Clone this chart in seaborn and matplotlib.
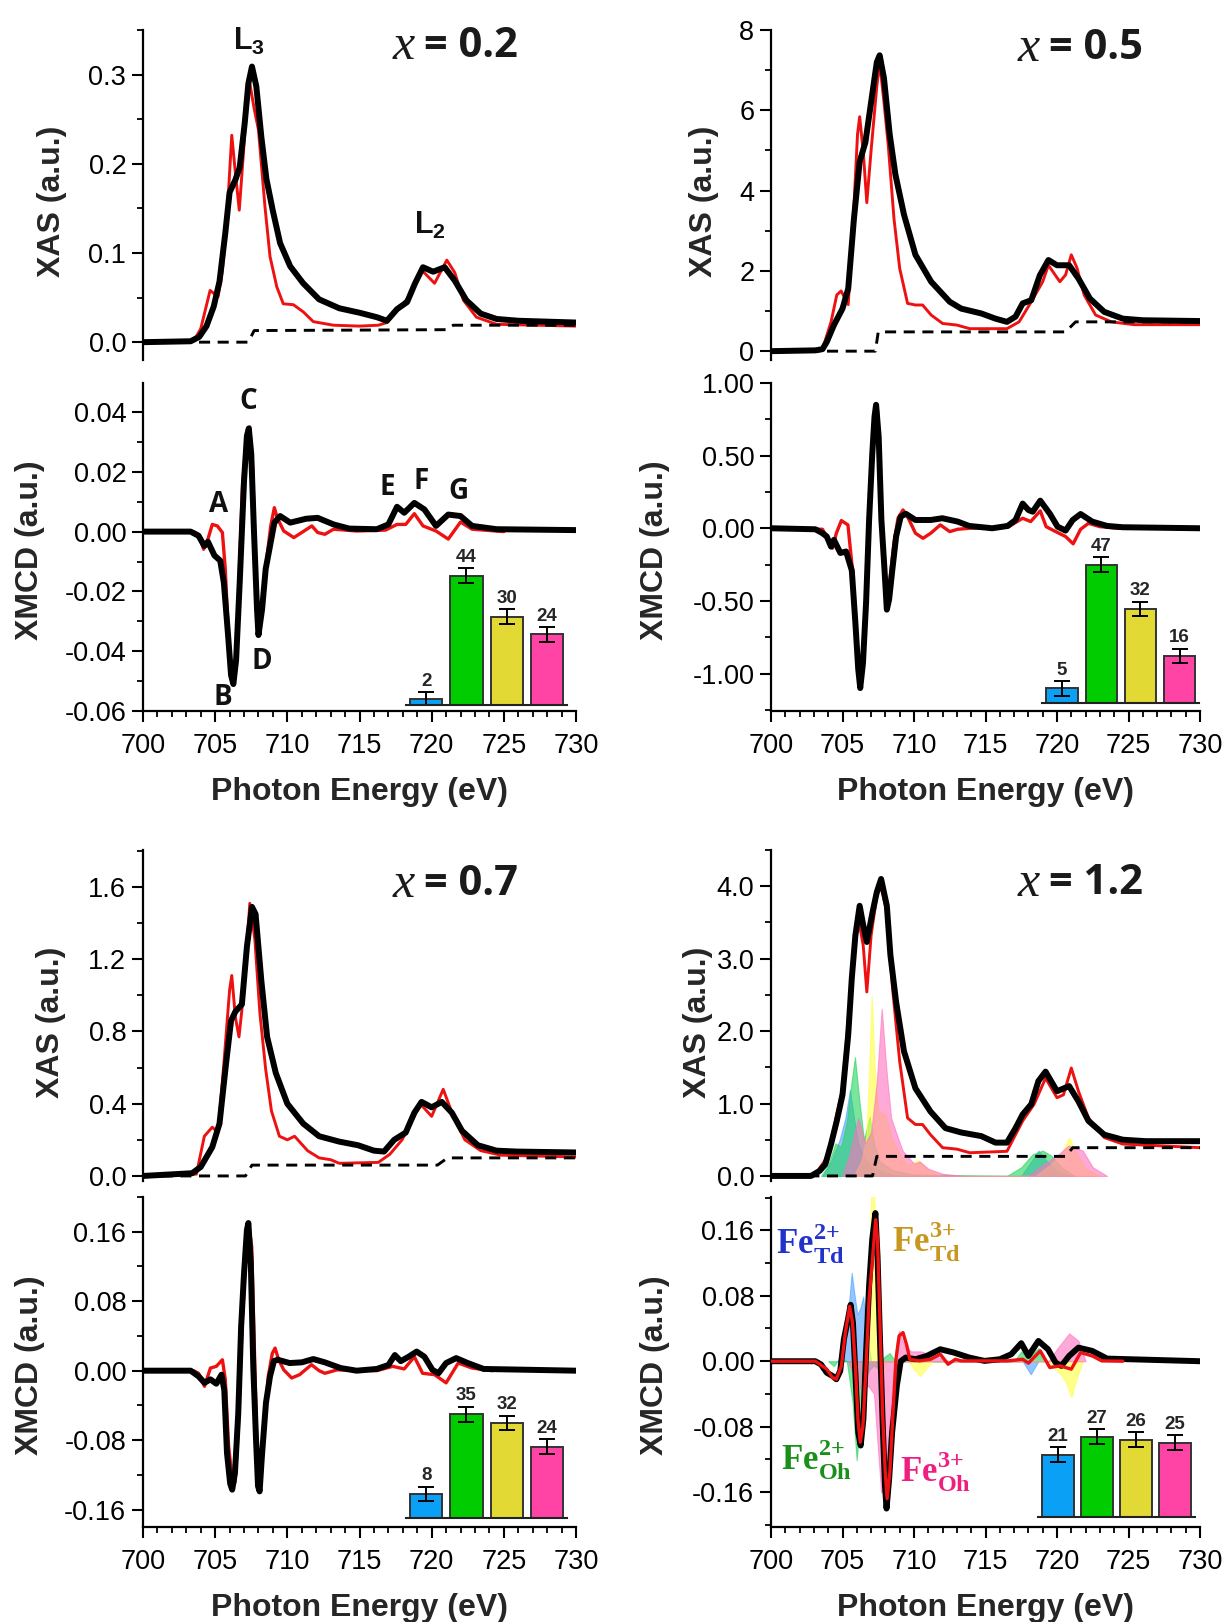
import matplotlib
matplotlib.use('Agg')
import matplotlib.pyplot as plt
import seaborn as sns
from matplotlib.ticker import MultipleLocator, FormatStrFormatter

sns.set_theme(style='ticks')
plt.rcParams['font.family'] = ['Liberation Sans', 'DejaVu Sans']
plt.rcParams['axes.unicode_minus'] = False
plt.rcParams['mathtext.fontset'] = 'custom'
plt.rcParams['mathtext.rm'] = 'Liberation Serif'
plt.rcParams['mathtext.bf'] = 'Liberation Serif:bold'
plt.rcParams['mathtext.sf'] = 'Liberation Sans:bold'

# ---------------- data: x = 0.2 ----------------
E_XAS_EXP_02 = [700, 703.3, 703.9, 704.4, 704.9, 705.3, 705.7, 706.0, 706.4, 706.7, 707.05, 707.3, 707.55, 707.85, 708.2, 708.55, 709.0, 709.5, 710.2, 711.1, 712.2, 713.6, 715.0, 716.2, 716.9, 717.6, 718.3, 718.85, 719.4, 720.1, 720.9, 721.6, 722.4, 723.4, 724.5, 726.0, 730]
XAS_EXP_02 = [0, 0.001, 0.006, 0.018, 0.04, 0.068, 0.122, 0.168, 0.182, 0.196, 0.246, 0.29, 0.309, 0.287, 0.23, 0.183, 0.147, 0.111, 0.085, 0.066, 0.048, 0.038, 0.033, 0.028, 0.024, 0.037, 0.045, 0.066, 0.084, 0.079, 0.084, 0.069, 0.047, 0.032, 0.026, 0.024, 0.022]
E_XAS_FIT_02 = [700, 703.5, 704.0, 704.3, 704.65, 705.2, 705.5, 705.8, 706.15, 706.4, 706.67, 706.95, 707.15, 707.41, 707.7, 708.0, 708.45, 708.8, 709.27, 709.72, 710.42, 711.1, 711.8, 713.2, 715.0, 716.3, 716.9, 717.6, 718.4, 719.3, 720.2, 721.05, 721.6, 722.2, 723.1, 724.5, 730]
XAS_FIT_02 = [0, 0.001, 0.015, 0.035, 0.058, 0.051, 0.08, 0.134, 0.232, 0.19, 0.148, 0.21, 0.26, 0.289, 0.262, 0.238, 0.152, 0.096, 0.062, 0.043, 0.042, 0.034, 0.023, 0.019, 0.018, 0.019, 0.022, 0.036, 0.05, 0.081, 0.066, 0.092, 0.078, 0.047, 0.028, 0.02, 0.018]
E_STEP_02 = [700, 707.3, 707.7, 721.0, 721.5, 730]
STEP_02 = [0, 0, 0.013, 0.014, 0.019, 0.019]
E_XMCD_EXP_02 = [700, 703.3, 703.85, 704.25, 704.5, 704.95, 705.35, 705.6, 705.9, 706.1, 706.26, 706.45, 706.7, 707.0, 707.2, 707.33, 707.5, 707.7, 707.9, 708.0, 708.25, 708.5, 708.8, 709.1, 709.5, 710.2, 711.3, 712.1, 713.2, 714.3, 716.2, 717.0, 717.6, 718.1, 718.8, 719.5, 720.3, 721.15, 722.0, 722.8, 724.5, 730]
XMCD_EXP_02 = [0, 0, -0.0014, -0.0048, -0.0034, -0.008, -0.0097, -0.017, -0.035, -0.048, -0.051, -0.043, -0.017, 0.017, 0.032, 0.0345, 0.026, -0.0014, -0.026, -0.0346, -0.026, -0.0125, -0.0048, 0.003, 0.0052, 0.003, 0.0043, 0.0046, 0.0024, 0.001, 0.0008, 0.0024, 0.0083, 0.0063, 0.0096, 0.0074, 0.0019, 0.0057, 0.0052, 0.0019, 0.0008, 0.0005]
E_XMCD_FIT_02 = [700, 703.5, 703.85, 704.2, 704.5, 704.8, 705.15, 705.5, 705.7, 705.95, 706.2, 706.4, 706.6, 706.9, 707.2, 707.4, 707.6, 707.8, 708.0, 708.25, 708.6, 708.85, 709.1, 709.3, 709.75, 710.45, 711.0, 711.7, 712.1, 712.6, 713.2, 714.8, 716.8, 717.6, 718.2, 718.8, 719.4, 720.3, 721.15, 722.0, 722.8, 725.0]
XMCD_FIT_02 = [0, 0, -0.0009, -0.0059, -0.0025, 0.0024, 0.0019, -0.0003, -0.0125, -0.038, -0.048, -0.0456, -0.0235, 0.016, 0.032, 0.035, 0.0207, -0.0125, -0.031, -0.027, -0.008, 0.0019, 0.008, 0.0046, 0.0002, -0.002, -0.0003, 0.0019, -0.0003, -0.0009, 0.0008, 0.0002, 0.0005, 0.0024, 0.0024, 0.006, 0.0019, 0.0002, -0.0025, 0.0032, 0.0008, 0]
BARS_02 = [2, 44, 30, 24]

# ---------------- data: x = 0.5 ----------------
E_XAS_EXP_05 = [700, 703.1, 703.6, 703.9, 704.4, 705.0, 705.4, 705.8, 706.2, 706.6, 707.0, 707.4, 707.6, 707.9, 708.3, 708.7, 709.3, 710.1, 711.2, 712.5, 713.3, 714.7, 715.7, 716.5, 717.1, 717.6, 718.2, 718.8, 719.4, 720.0, 720.85, 721.5, 722.3, 723.3, 724.6, 726.0, 730]
XAS_EXP_05 = [0, 0.02, 0.05, 0.23, 0.65, 1.06, 1.56, 3.3, 4.72, 5.2, 6.2, 7.2, 7.37, 6.8, 5.4, 4.4, 3.4, 2.4, 1.73, 1.23, 1.06, 0.94, 0.81, 0.73, 0.86, 1.19, 1.27, 1.89, 2.27, 2.14, 2.14, 1.81, 1.31, 0.98, 0.81, 0.77, 0.75]
E_XAS_FIT_05 = [700, 703.6, 704.2, 704.6, 704.9, 705.4, 705.7, 706.05, 706.2, 706.45, 706.7, 707.0, 707.4, 707.6, 707.9, 708.2, 708.6, 709.0, 709.55, 710.1, 710.6, 711.2, 712.0, 713.0, 713.9, 716.5, 717.35, 718.2, 719.0, 719.4, 720.2, 720.6, 721.0, 721.4, 721.9, 722.7, 723.8, 725.4, 730]
XAS_FIT_05 = [0, 0.05, 0.73, 1.4, 1.5, 1.16, 2.9, 5.4, 5.84, 4.97, 3.7, 5.0, 6.6, 7.2, 6.2, 5.13, 3.3, 2.06, 1.19, 1.15, 1.15, 0.9, 0.69, 0.65, 0.56, 0.56, 0.73, 1.23, 1.73, 2.14, 1.73, 1.9, 2.4, 2.07, 1.4, 0.9, 0.73, 0.66, 0.66]
E_STEP_05 = [700, 707.3, 707.5, 720.6, 721.3, 730]
STEP_05 = [0, 0, 0.48, 0.48, 0.73, 0.73]
E_XMCD_EXP_05 = [700, 703.1, 703.6, 703.9, 704.2, 704.4, 704.85, 705.25, 705.65, 705.9, 706.1, 706.24, 706.43, 706.65, 706.86, 707.08, 707.24, 707.35, 707.53, 707.72, 707.94, 708.1, 708.26, 708.48, 708.75, 709.07, 709.42, 710.1, 711.17, 711.98, 713.05, 713.86, 715.47, 716.55, 717.1, 717.6, 718.0, 718.3, 718.83, 719.5, 720.04, 720.6, 721.1, 721.65, 722.46, 723.5, 724.6, 730]
XMCD_EXP_05 = [0, -0.007, -0.034, -0.057, -0.126, -0.08, -0.17, -0.16, -0.29, -0.65, -0.97, -1.10, -0.93, -0.51, 0.057, 0.51, 0.77, 0.85, 0.63, 0.057, -0.29, -0.56, -0.49, -0.29, -0.057, 0.08, 0.10, 0.057, 0.057, 0.069, 0.046, 0.016, 0, 0.016, 0.057, 0.17, 0.126, 0.114, 0.19, 0.10, 0.011, -0.016, 0.057, 0.098, 0.046, 0.016, 0.007, 0]
E_XMCD_FIT_05 = [700, 703.6, 704.0, 704.3, 704.57, 704.92, 705.38, 705.7, 705.97, 706.2, 706.38, 706.6, 706.86, 707.13, 707.32, 707.45, 707.6, 707.8, 707.97, 708.15, 708.34, 708.6, 708.88, 709.23, 709.55, 710.1, 710.63, 711.17, 711.84, 712.5, 713.05, 713.86, 716.55, 717.6, 718.16, 718.83, 719.24, 719.91, 720.6, 721.13, 721.65, 722.2, 723.0, 724.35]
XMCD_FIT_05 = [0, -0.007, -0.08, -0.137, -0.034, 0.053, 0.023, -0.29, -0.79, -1.06, -0.97, -0.56, 0.126, 0.63, 0.79, 0.81, 0.49, -0.057, -0.40, -0.49, -0.33, -0.10, 0.069, 0.126, 0.08, -0.034, -0.069, -0.034, 0.023, -0.023, -0.007, 0, 0.007, 0.069, 0.046, 0.12, 0.011, -0.023, -0.057, -0.107, -0.007, 0.034, 0.011, 0]
BARS_05 = [5, 47, 32, 16]

# ---------------- data: x = 0.7 ----------------
E_XAS_EXP_07 = [700, 703.4, 704.0, 704.8, 705.3, 705.75, 706.1, 706.4, 706.85, 707.2, 707.55, 707.8, 708.2, 708.6, 709.2, 710.0, 711.1, 712.2, 713.6, 714.9, 716.0, 716.7, 717.4, 718.2, 718.8, 719.3, 720.0, 720.7, 721.4, 722.1, 723.2, 724.5, 725.9, 730]
XAS_EXP_07 = [0, 0.015, 0.05, 0.16, 0.29, 0.62, 0.86, 0.91, 0.95, 1.27, 1.49, 1.45, 1.08, 0.77, 0.57, 0.40, 0.29, 0.22, 0.19, 0.17, 0.14, 0.135, 0.2, 0.24, 0.35, 0.41, 0.38, 0.41, 0.35, 0.25, 0.17, 0.14, 0.135, 0.13]
E_XAS_FIT_07 = [700, 703.7, 704.25, 704.8, 705.2, 705.6, 706.0, 706.15, 706.4, 706.65, 707.0, 707.4, 707.75, 708.1, 708.5, 708.9, 709.45, 710.0, 710.5, 711.4, 712.2, 713.0, 713.6, 716.3, 717.1, 717.95, 718.8, 719.2, 720.0, 720.8, 721.5, 722.3, 723.4, 724.8, 730]
XAS_FIT_07 = [0, 0.01, 0.22, 0.27, 0.24, 0.62, 1.03, 1.11, 0.88, 0.77, 1.03, 1.51, 1.31, 0.9, 0.59, 0.36, 0.22, 0.2, 0.22, 0.14, 0.1, 0.09, 0.07, 0.075, 0.12, 0.2, 0.33, 0.4, 0.33, 0.48, 0.33, 0.2, 0.14, 0.115, 0.105]
E_STEP_07 = [700, 707.1, 707.55, 720.4, 721.1, 730]
STEP_07 = [0, 0, 0.06, 0.06, 0.1, 0.1]
E_XMCD_EXP_07 = [700, 703.3, 703.85, 704.26, 704.67, 705.08, 705.44, 705.63, 705.82, 706.04, 706.18, 706.37, 706.6, 706.8, 707.0, 707.2, 707.3, 707.47, 707.64, 707.83, 707.97, 708.08, 708.24, 708.52, 708.8, 709.07, 709.34, 710.16, 711.0, 711.8, 712.6, 713.7, 714.8, 716.2, 717.0, 717.45, 717.86, 718.4, 718.96, 719.5, 720.05, 720.47, 721.0, 721.7, 722.5, 723.6, 730]
XMCD_EXP_07 = [0, 0, -0.0065, -0.014, -0.010, -0.015, -0.0046, -0.022, -0.095, -0.13, -0.137, -0.118, -0.049, 0.051, 0.112, 0.162, 0.17, 0.124, 0.005, -0.079, -0.133, -0.139, -0.098, -0.037, -0.0065, 0.011, 0.0126, 0.0088, 0.0096, 0.0134, 0.0096, 0.003, 0, 0.002, 0.0065, 0.018, 0.011, 0.016, 0.022, 0.016, 0.001, -0.003, 0.0088, 0.0145, 0.0088, 0.002, 0]
E_XMCD_FIT_07 = [700, 703.5, 703.85, 704.26, 704.67, 705.08, 705.5, 705.7, 705.93, 706.18, 706.37, 706.6, 706.87, 707.14, 707.36, 707.53, 707.7, 707.86, 708.02, 708.19, 708.41, 708.68, 708.96, 709.15, 709.4, 709.75, 710.3, 710.85, 711.67, 712.2, 712.6, 713.46, 716.2, 717.3, 718.1, 718.8, 719.37, 720.2, 721.0, 721.84, 722.8, 724.2]
XMCD_FIT_07 = [0, 0, -0.003, -0.018, 0.003, 0.005, 0.0126, -0.010, -0.087, -0.125, -0.129, -0.068, 0.055, 0.139, 0.164, 0.143, 0.036, -0.068, -0.125, -0.118, -0.068, -0.0065, 0.020, 0.026, 0.0126, 0.001, -0.0084, -0.0046, 0.0069, 0, -0.003, 0.001, 0, 0.005, 0.002, 0.016, -0.003, -0.0046, -0.014, 0.0088, 0.003, 0]
BARS_07 = [8, 35, 32, 24]

# ---------------- data: x = 1.2 ----------------
E_XAS_EXP_12 = [700, 702.8, 703.4, 703.8, 704.2, 704.6, 705.0, 705.4, 705.65, 705.9, 706.2, 706.45, 706.7, 707.1, 707.4, 707.7, 708.1, 708.35, 708.75, 709.3, 710.1, 711.15, 712.2, 713.3, 714.7, 715.7, 716.5, 717.1, 717.6, 718.2, 718.7, 719.2, 720.0, 720.85, 721.5, 722.2, 723.3, 724.6, 726.2, 730]
XAS_EXP_12 = [0, 0, 0.07, 0.16, 0.44, 0.76, 1.12, 1.95, 2.73, 3.32, 3.73, 3.46, 3.23, 3.64, 3.92, 4.1, 3.73, 3.05, 2.4, 1.72, 1.21, 0.89, 0.66, 0.6, 0.55, 0.46, 0.46, 0.66, 0.85, 0.99, 1.31, 1.44, 1.17, 1.24, 1.03, 0.76, 0.57, 0.5, 0.48, 0.48]
E_XAS_FIT_12 = [700, 703.1, 703.9, 704.4, 705.0, 705.5, 705.9, 706.2, 706.45, 706.7, 707.0, 707.4, 707.7, 708.1, 708.5, 709.0, 709.55, 710.1, 710.6, 711.15, 712.0, 713.0, 713.9, 716.5, 717.6, 718.4, 719.2, 720.0, 720.45, 721.0, 721.5, 722.2, 723.3, 724.6, 730]
XAS_FIT_12 = [0, 0.02, 0.25, 0.66, 1.21, 2.4, 3.32, 3.46, 3.18, 2.54, 3.32, 3.87, 3.99, 3.64, 2.59, 1.58, 0.8, 0.71, 0.71, 0.57, 0.39, 0.37, 0.32, 0.34, 0.76, 0.99, 1.35, 1.08, 1.12, 1.49, 1.17, 0.8, 0.53, 0.44, 0.39]
E_STEP_12 = [700, 707.1, 707.4, 720.6, 721.1, 730]
STEP_12 = [0, 0, 0.27, 0.27, 0.39, 0.39]
E_XMCD_EXP_12 = [700, 703.1, 703.5, 703.9, 704.3, 704.57, 704.84, 705.1, 705.38, 705.57, 705.73, 705.92, 706.1, 706.27, 706.46, 706.65, 706.86, 707.08, 707.3, 707.45, 707.6, 707.8, 707.97, 708.08, 708.26, 708.47, 708.8, 709.07, 709.42, 710.1, 710.9, 711.84, 712.78, 713.86, 714.93, 716.0, 716.8, 717.5, 718.0, 718.7, 719.37, 719.9, 720.3, 720.85, 721.5, 722.46, 723.5, 730]
XMCD_EXP_12 = [0, 0, -0.004, -0.014, -0.018, -0.022, -0.012, 0.027, 0.051, 0.069, 0.047, -0.022, -0.087, -0.103, -0.071, 0.011, 0.092, 0.149, 0.181, 0.128, 0.039, -0.071, -0.152, -0.18, -0.144, -0.087, -0.03, 0, 0.0045, 0.0024, 0.0065, 0.0146, 0.0106, 0.0045, 0.0004, 0.0024, 0.0085, 0.022, 0.0065, 0.0248, 0.0146, -0.0016, -0.0057, 0.0065, 0.0166, 0.0126, 0.0032, 0]
E_XMCD_FIT_12 = [700, 703.1, 703.9, 704.3, 704.57, 704.92, 705.2, 705.5, 705.7, 705.9, 706.08, 706.24, 706.43, 706.65, 706.86, 707.13, 707.32, 707.45, 707.6, 707.8, 707.99, 708.12, 708.31, 708.53, 708.74, 708.96, 709.23, 709.5, 709.7, 710.36, 711.17, 711.84, 712.38, 712.9, 713.3, 716.55, 717.6, 718.0, 718.83, 719.5, 720.2, 721.0, 721.65, 722.46, 723.13, 724.6]
XMCD_FIT_12 = [0, 0, -0.0097, -0.02, -0.022, -0.0057, 0.035, 0.067, 0.047, -0.0057, -0.071, -0.099, -0.079, -0.0057, 0.076, 0.132, 0.173, 0.149, 0.059, -0.063, -0.136, -0.168, -0.136, -0.063, 0.0024, 0.031, 0.035, 0.019, 0.0024, 0.0004, 0.0024, 0.0085, -0.0037, 0.0024, 0.0004, 0.0004, 0.0024, -0.0024, 0.0126, -0.0077, -0.0057, -0.0097, 0.0106, 0.0065, 0.0004, 0]
BARS_12 = [21, 27, 26, 25]

# site-resolved components (x = 1.2)
E_XAS_TD2 = [703.6, 704.2, 704.8, 705.2, 705.52, 705.8, 706.1, 706.5, 707.0, 708.0, 709.0, 717.5, 718.2, 718.7, 719.3, 720.0, 721.0]
XAS_TD2 = [0, 0.2, 0.5, 0.8, 1.19, 0.8, 0.45, 0.25, 0.12, 0.04, 0, 0, 0.2, 0.35, 0.2, 0.06, 0]
E_XAS_OH2 = [703.5, 704.0, 704.5, 704.9, 705.3, 705.6, 705.87, 706.2, 706.5, 706.9, 707.2, 707.6, 708.5, 710.0, 716.5, 717.5, 718.3, 719.0, 719.6, 720.3, 721.2]
XAS_OH2 = [0, 0.15, 0.45, 0.4, 0.75, 1.25, 1.64, 1.0, 0.5, 0.82, 0.45, 0.2, 0.08, 0.02, 0, 0.12, 0.3, 0.35, 0.28, 0.12, 0]
E_XAS_TD3 = [705.8, 706.3, 706.65, 706.85, 707.04, 707.25, 707.5, 708.0, 708.5, 709.0, 709.6, 710.3, 711.0, 712.0, 718.5, 719.5, 720.3, 720.85, 721.4, 722.0, 723.0]
XAS_TD3 = [0, 0.2, 0.5, 1.4, 2.49, 1.5, 0.9, 0.85, 0.5, 0.3, 0.15, 0.22, 0.08, 0, 0, 0.15, 0.3, 0.53, 0.3, 0.1, 0]
E_XAS_OH3 = [705.0, 705.5, 706.1, 706.6, 707.0, 707.4, 707.74, 708.1, 708.4, 708.8, 709.2, 710.0, 710.4, 711.0, 712.0, 713.5, 718.0, 719.0, 720.0, 720.8, 721.8, 722.5, 723.5]
XAS_OH3 = [0, 0.3, 0.8, 0.45, 0.6, 1.3, 2.31, 1.4, 0.8, 0.57, 0.35, 0.17, 0.2, 0.1, 0.03, 0, 0, 0.15, 0.28, 0.42, 0.35, 0.12, 0]
E_XMCD_TD2 = [704.8, 705.2, 705.45, 705.64, 705.85, 706.04, 706.25, 706.45, 706.7, 707.0, 717.6, 718.16, 718.7]
XMCD_TD2 = [0, 0.02, 0.07, 0.108, 0.08, 0.057, 0.065, 0.079, 0.03, 0, 0, -0.016, 0]
E_XMCD_OH2 = [704.0, 704.4, 704.8, 705.3, 705.7, 705.99, 706.3, 706.6, 706.9, 707.2, 707.5, 707.9, 708.3, 708.7, 717.0, 717.5, 718.0, 718.7, 719.3]
XMCD_OH2 = [0, -0.006, 0.004, 0, -0.05, -0.121, -0.06, -0.02, -0.01, -0.005, -0.01, 0.005, 0.01, 0, 0, 0.012, 0.004, 0.016, 0]
E_XMCD_TD3 = [706.5, 706.8, 707.0, 707.2, 707.4, 707.55, 707.7, 707.85, 708.1, 709.6, 710.0, 710.45, 710.9, 711.3, 719.4, 720.2, 720.6, 721.0, 721.4, 721.8]
XMCD_TD3 = [0, 0.06, 0.2, 0.22, 0.05, -0.01, -0.045, -0.01, 0, 0, -0.01, -0.018, -0.008, 0, 0, -0.015, -0.025, -0.044, -0.02, 0]
E_XMCD_OH3 = [705.4, 705.8, 706.3, 706.8, 707.2, 707.45, 707.7, 707.95, 708.2, 708.5, 708.75, 708.95, 709.3, 709.8, 710.5, 711.5, 712.5, 719.4, 720.0, 720.85, 721.5, 722.0]
XMCD_OH3 = [0, -0.02, -0.035, -0.03, -0.04, -0.1, -0.16, -0.16, -0.1, -0.03, 0.02, 0.037, 0.02, 0.012, 0.012, 0.006, 0, 0, 0.015, 0.034, 0.025, 0]

SITES = ['Fe2+ Td', 'Fe2+ Oh', 'Fe3+ Td', 'Fe3+ Oh']
BAR_COLORS = ['#0aa0f5', '#00cc00', '#e3d935', '#ff44a6']
FILL_COLORS = ['#4d9fff', '#22d45a', '#ffff40', '#ff70c0']
BAR_ERR = [2.5, 2.5, 2.5, 2.5]
COMPOSITIONS = ['0.2', '0.5', '0.7', '1.2']

# ---------------- figure ----------------
W, H = 1227, 1622
fig = plt.figure(figsize=(W / 100, H / 100), dpi=100)

COLX = [(143, 433), (771, 429)]
ROWS = [((30, 360), (383, 711)), ((850, 1181), (1197, 1527))]


def add_ax(col, top, bot):
    x0, w = COLX[col]
    return fig.add_axes([x0 / W, 1 - bot / H, w / W, (bot - top) / H])


def line(ax, e, v, **kw):
    sns.lineplot(x=e, y=v, ax=ax, estimator=None, sort=False, legend=False, **kw)


def style_common(ax):
    for s in ['top', 'right']:
        ax.spines[s].set_visible(False)
    ax.spines['left'].set_linewidth(1.6)
    ax.spines['left'].set_color('black')
    ax.spines['bottom'].set_linewidth(1.6)
    ax.spines['bottom'].set_color('black')
    ax.tick_params(axis='both', which='major', length=8, width=1.5, labelsize=19.5,
                   colors='black', direction='out', pad=4)
    ax.tick_params(axis='both', which='minor', length=4.5, width=1.3, direction='out', colors='black')
    ax.set_xlim(700, 730)
    ax.set_facecolor('none')


def draw_bars(ax, vals, x0, w, base):
    iax = ax.inset_axes([x0, base, w, 55 * 0.00897], transform=ax.get_xaxis_transform())
    sns.barplot(x=SITES, y=vals, hue=SITES, palette=BAR_COLORS, legend=False, ax=iax,
                width=0.8, saturation=1, edgecolor='#333333', linewidth=1.4, errorbar=None)
    iax.errorbar(range(4), vals, yerr=BAR_ERR, fmt='none', ecolor='black',
                 elinewidth=1.4, capsize=6, capthick=1.4)
    for i, v in enumerate(vals):
        iax.text(i, v + BAR_ERR[i] + 0.8, str(v), ha='center', va='bottom', fontsize=13.5,
                 fontweight='bold', family=['Liberation Sans Narrow', 'Liberation Sans'])
    iax.set_xlim(-0.5, 3.5)
    iax.set_ylim(0, 55)
    iax.set_xticks([])
    iax.set_yticks([])
    iax.set_xlabel('')
    iax.set_ylabel('')
    iax.set_facecolor('none')
    for s in ['top', 'right', 'left']:
        iax.spines[s].set_visible(False)
    iax.spines['bottom'].set_linewidth(1.5)
    iax.spines['bottom'].set_color('#222222')


def comp_label(ax, comp, xf, yf):
    ax.text(xf, yf, 'x', transform=ax.transAxes, ha='left', va='center', fontsize=36,
            style='italic', family=['Liberation Serif'], color='#1a1a1a')
    ax.text(xf + 0.073, yf, '= ' + comp, transform=ax.transAxes, ha='left', va='center',
            fontsize=30, fontweight='bold', family=['Open Sans', 'Liberation Sans'], color='#1a1a1a')


panels = [
    dict(col=0, row=0, xe=E_XAS_EXP_02, xv=XAS_EXP_02, fe=E_XAS_FIT_02, fv=XAS_FIT_02,
         se=E_STEP_02, sv=STEP_02, me=E_XMCD_EXP_02, mv=XMCD_EXP_02, ge=E_XMCD_FIT_02, gv=XMCD_FIT_02,
         bars=BARS_02, comp=COMPOSITIONS[0], xas_ylim=(-0.02, 0.35), xas_maj=0.1, xas_min=0.05, xas_fmt='%.1f',
         mcd_ylim=(-0.06, 0.0497), mcd_maj=0.02, mcd_min=0.01, mcd_fmt='%.2f',
         xas_lab=-0.175, mcd_lab=-0.226, bx0=718.25, bw=11.1, bbase=0.018, cy=0.95),
    dict(col=1, row=0, xe=E_XAS_EXP_05, xv=XAS_EXP_05, fe=E_XAS_FIT_05, fv=XAS_FIT_05,
         se=E_STEP_05, sv=STEP_05, me=E_XMCD_EXP_05, mv=XMCD_EXP_05, ge=E_XMCD_FIT_05, gv=XMCD_FIT_05,
         bars=BARS_05, comp=COMPOSITIONS[1], xas_ylim=(-0.22, 8.0), xas_maj=2, xas_min=1, xas_fmt='%d',
         mcd_ylim=(-1.258, 1.0), mcd_maj=0.5, mcd_min=0.25, mcd_fmt='%.2f',
         xas_lab=-0.121, mcd_lab=-0.235, bx0=718.98, bw=10.96, bbase=0.024, cy=0.944),
    dict(col=0, row=1, xe=E_XAS_EXP_07, xv=XAS_EXP_07, fe=E_XAS_FIT_07, fv=XAS_FIT_07,
         se=E_STEP_07, sv=STEP_07, me=E_XMCD_EXP_07, mv=XMCD_EXP_07, ge=E_XMCD_FIT_07, gv=XMCD_FIT_07,
         bars=BARS_07, comp=COMPOSITIONS[2], xas_ylim=(-0.028, 1.805), xas_maj=0.4, xas_min=0.2, xas_fmt='%.1f',
         mcd_ylim=(-0.18, 0.2), mcd_maj=0.08, mcd_min=0.04, mcd_fmt='%.2f',
         xas_lab=-0.178, mcd_lab=-0.226, bx0=718.25, bw=11.1, bbase=0.028, cy=0.896),
    dict(col=1, row=1, xe=E_XAS_EXP_12, xv=XAS_EXP_12, fe=E_XAS_FIT_12, fv=XAS_FIT_12,
         se=E_STEP_12, sv=STEP_12, me=E_XMCD_EXP_12, mv=XMCD_EXP_12, ge=E_XMCD_FIT_12, gv=XMCD_FIT_12,
         bars=BARS_12, comp=COMPOSITIONS[3], xas_ylim=(-0.07, 4.5), xas_maj=1, xas_min=0.5, xas_fmt='%.1f',
         mcd_ylim=(-0.2026, 0.2007), mcd_maj=0.08, mcd_min=0.04, mcd_fmt='%.2f',
         xas_lab=-0.136, mcd_lab=-0.235, bx0=718.7, bw=10.92, bbase=0.031, cy=0.899),
]

for p in panels:
    (t1, b1), (t2, b2) = ROWS[p['row']]
    axa = add_ax(p['col'], t1, b1)
    axm = add_ax(p['col'], t2, b2)
    for ax in (axa, axm):
        style_common(ax)

    # ---- XAS ----
    if p['comp'] == '1.2':
        for (e, v), c in zip([(E_XAS_TD2, XAS_TD2), (E_XAS_OH2, XAS_OH2),
                              (E_XAS_TD3, XAS_TD3), (E_XAS_OH3, XAS_OH3)], FILL_COLORS):
            axa.fill_between(e, 0, v, color=c, alpha=0.6, linewidth=0.8, edgecolor=c, zorder=1)
    line(axa, p['fe'], p['fv'], color='#ee1111', linewidth=2.1, zorder=3)
    line(axa, p['xe'], p['xv'], color='black', linewidth=4.3, zorder=4)
    line(axa, p['se'], p['sv'], color='black', linewidth=2.1, linestyle=(0, (3.8, 2.6)), zorder=5)
    axa.set_ylim(*p['xas_ylim'])
    axa.spines['bottom'].set_visible(False)
    axa.tick_params(axis='x', which='both', bottom=False, labelbottom=False)
    axa.yaxis.set_major_locator(MultipleLocator(p['xas_maj']))
    axa.yaxis.set_minor_locator(MultipleLocator(p['xas_min']))
    axa.yaxis.set_major_formatter(FormatStrFormatter(p['xas_fmt']))
    axa.set_ylabel('XAS (a.u.)', fontsize=23, fontweight='bold')
    axa.yaxis.set_label_coords(p['xas_lab'], 0.48)
    axa.set_xlabel('')
    comp_label(axa, p['comp'], 0.576, p['cy'])

    # ---- XMCD ----
    if p['comp'] == '1.2':
        for (e, v), c in zip([(E_XMCD_TD2, XMCD_TD2), (E_XMCD_OH2, XMCD_OH2),
                              (E_XMCD_TD3, XMCD_TD3), (E_XMCD_OH3, XMCD_OH3)], FILL_COLORS):
            axm.fill_between(e, 0, v, color=c, alpha=0.6, linewidth=0.8, edgecolor=c, zorder=1)
        line(axm, p['me'], p['mv'], color='black', linewidth=4.3, zorder=3)
        line(axm, p['ge'], p['gv'], color='#ee1111', linewidth=2.4, zorder=4)
    else:
        line(axm, p['ge'], p['gv'], color='#ee1111', linewidth=2.4, zorder=3)
        line(axm, p['me'], p['mv'], color='black', linewidth=4.3, zorder=4)
    axm.set_ylim(*p['mcd_ylim'])
    axm.xaxis.set_major_locator(MultipleLocator(5))
    axm.xaxis.set_minor_locator(MultipleLocator(1))
    axm.xaxis.set_major_formatter(FormatStrFormatter('%d'))
    axm.yaxis.set_major_locator(MultipleLocator(p['mcd_maj']))
    axm.yaxis.set_minor_locator(MultipleLocator(p['mcd_min']))
    axm.yaxis.set_major_formatter(FormatStrFormatter(p['mcd_fmt']))
    axm.tick_params(axis='x', which='major', pad=8)
    axm.set_ylabel('XMCD (a.u.)', fontsize=23, fontweight='bold')
    axm.yaxis.set_label_coords(p['mcd_lab'], 0.49)
    axm.set_xlabel('Photon Energy (eV)', fontsize=23, fontweight='bold', labelpad=13)
    draw_bars(axm, p['bars'], p['bx0'], p['bw'], p['bbase'])
    p['axa'] = axa
    p['axm'] = axm

# ---- annotations ----
a1 = panels[0]['axa']
a1.text(707.35, 0.328, r'$\mathsf{L}_{\mathsf{3}}$', ha='center', va='baseline', fontsize=22, color='#111111')
a1.text(719.9, 0.121, r'$\mathsf{L}_{\mathsf{2}}$', ha='center', va='baseline', fontsize=22, color='#111111')
m1 = panels[0]['axm']
for lab, ex, ey in [('A', 705.25, 0.009), ('B', 705.5, -0.0554), ('C', 707.3, 0.0434), ('D', 708.2, -0.0436),
                    ('E', 716.95, 0.0146), ('F', 719.3, 0.0168), ('G', 721.85, 0.0134)]:
    m1.text(ex, ey, lab, ha='center', va='center', fontsize=20, fontweight='bold',
            family=['Open Sans', 'Liberation Sans'], color='#111111')

m4 = panels[3]['axm']
for lab, ex, ey, c in [(r'$\mathbf{Fe}^{\mathbf{2{+}}}_{\mathbf{Td}}$', 700.35, 0.131, '#2233cc'),
                       (r'$\mathbf{Fe}^{\mathbf{3{+}}}_{\mathbf{Td}}$', 708.45, 0.134, '#c8971f'),
                       (r'$\mathbf{Fe}^{\mathbf{2{+}}}_{\mathbf{Oh}}$', 700.7, -0.133, '#1a8f1a'),
                       (r'$\mathbf{Fe}^{\mathbf{3{+}}}_{\mathbf{Oh}}$', 709.0, -0.147, '#ee1f80')]:
    m4.text(ex, ey, lab, ha='left', va='baseline', fontsize=25, color=c, zorder=6)

fig.savefig('out.png', dpi=100)
